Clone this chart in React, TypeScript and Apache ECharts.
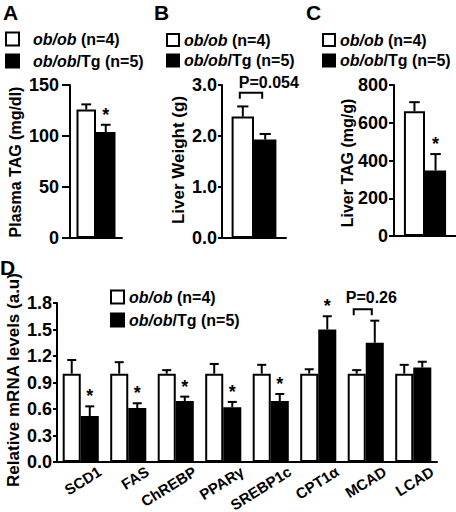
import React, { useEffect, useRef } from 'react';
import * as echarts from 'echarts';

const FONT = 'Arial, "Liberation Sans", Helvetica, sans-serif';

// Group names (legend)
const groupNames = ['ob/ob (n=4)', 'ob/ob/Tg (n=5)'];

// Panel A: Plasma TAG (mg/dl)
const plasmaCats = ['Plasma TAG'];
const plasmaObOb = [126];
const plasmaObObErr = [5];
const plasmaTg = [104];
const plasmaTgErr = [7];
const plasmaTgStar = [1];

// Panel B: Liver weight (g)
const liverWCats = ['Liver Weight'];
const liverWObOb = [2.38];
const liverWObObErr = [0.2];
const liverWTg = [1.93];
const liverWTgErr = [0.11];
const liverWBracket = [2.85];
const liverWP = ['P=0.054'];

// Panel C: Liver TAG (mg/g)
const liverTCats = ['Liver TAG'];
const liverTObOb = [661];
const liverTObObErr = [48];
const liverTTg = [347];
const liverTTgErr = [87];
const liverTTgStar = [1];

// Panel D: relative mRNA levels
const genes = ['SCD1', 'FAS', 'ChREBP', 'PPARγ', 'SREBP1c', 'CPT1α', 'MCAD', 'LCAD'];
const mrnaObOb = [1, 1, 1, 1, 1, 1, 1, 1];
const mrnaObObErr = [0.155, 0.13, 0.04, 0.11, 0.1, 0.05, 0.04, 0.1];
const mrnaTg = [0.52, 0.61, 0.69, 0.62, 0.69, 1.5, 1.35, 1.07];
const mrnaTgErr = [0.11, 0.055, 0.05, 0.06, 0.08, 0.15, 0.25, 0.065];
const mrnaTgStar = [1, 1, 1, 1, 1, 1, 0, 0];
const mrnaBracketIdx = 6;
const mrnaBracket = [1.73];
const mrnaP = ['P=0.26'];

// Axis ranges [min, max, interval]
const axisA = [0, 150, 50];
const axisB = [0, 3, 1];
const axisC = [0, 800, 200];
const axisD = [0, 1.8, 0.3];

function errSeries(gi: number, vals: number[], errs: number[], side: number, gap: number, stars?: number[]) {
  return {
    type: 'custom',
    xAxisIndex: gi,
    yAxisIndex: gi,
    z: 5,
    silent: true,
    data: vals.map((v, i) => [i, v, errs[i], stars ? stars[i] : 0]),
    renderItem: (params: any, api: any) => {
      const i = api.value(0), v = api.value(1), e = api.value(2), s = api.value(3);
      const base = api.coord([i, v]);
      const top = api.coord([i, v + e]);
      const band = api.size([1, 0])[0];
      const bw = (band * (1 - gap)) / 2;
      const x = base[0] + (side * bw) / 2;
      const cw = bw * 0.5;
      const children: any[] = [
        { type: 'line', shape: { x1: x, y1: base[1], x2: x, y2: top[1] }, style: { stroke: '#000', lineWidth: 2 } },
        { type: 'line', shape: { x1: x - cw / 2, y1: top[1], x2: x + cw / 2, y2: top[1] }, style: { stroke: '#000', lineWidth: 2 } },
      ];
      if (s) {
        children.push({
          type: 'text',
          x,
          y: top[1] - 1,
          style: { text: '*', font: `bold 18px ${FONT}`, fill: '#000', align: 'center', verticalAlign: 'bottom' },
        });
      }
      return { type: 'group', children };
    },
  };
}

function bracketSeries(gi: number, idx: number, yv: number, label: string, gap: number, textDx: number, textDy: number) {
  return {
    type: 'custom',
    xAxisIndex: gi,
    yAxisIndex: gi,
    z: 6,
    silent: true,
    data: [[idx, yv]],
    renderItem: (params: any, api: any) => {
      const p = api.coord([api.value(0), api.value(1)]);
      const band = api.size([1, 0])[0];
      const bw = (band * (1 - gap)) / 2;
      const x1 = p[0] - bw / 2 - 3;
      const x2 = p[0] + bw / 2 - 3;
      return {
        type: 'group',
        children: [
          {
            type: 'polyline',
            shape: { points: [[x1, p[1] + 6], [x1, p[1]], [x2, p[1]], [x2, p[1] + 6]] },
            style: { stroke: '#000', lineWidth: 2, fill: 'none' },
          },
          {
            type: 'text',
            x: x1 + textDx,
            y: p[1] - textDy,
            style: { text: label, font: `bold 16px ${FONT}`, fill: '#000', align: 'left', verticalAlign: 'middle' },
          },
        ],
      };
    },
  };
}

// Rotated category labels for panel D, placed from the category axis scale
function catLabelSeries(gi: number, cats: string[], dx: number, dy: number, angleDeg: number, fs: number) {
  return {
    type: 'custom',
    xAxisIndex: gi,
    yAxisIndex: gi,
    z: 6,
    silent: true,
    clip: false,
    data: cats.map((c, i) => [i, 0]),
    renderItem: (params: any, api: any) => {
      const i = api.value(0);
      const p = api.coord([i, 0]);
      return {
        type: 'text',
        x: p[0] + dx,
        y: p[1] + dy,
        rotation: (angleDeg * Math.PI) / 180,
        style: { text: cats[i], font: `bold ${fs}px ${FONT}`, fill: '#000', align: 'right', verticalAlign: 'middle' },
      };
    },
  };
}

function barPair(gi: number, white: number[], black: number[], gap: number) {
  const common = { type: 'bar', xAxisIndex: gi, yAxisIndex: gi, barGap: '0%', barCategoryGap: `${gap * 100}%`, silent: true };
  return [
    { ...common, name: groupNames[0], data: white, itemStyle: { color: '#fff', borderColor: '#000', borderWidth: 2 } },
    { ...common, name: groupNames[1], data: black, itemStyle: { color: '#000', borderColor: '#000', borderWidth: 2 } },
  ];
}

function yAxis(gi: number, range: number[], decimals: number, tickLen: number, margin: number, fs: number) {
  return {
    type: 'value',
    gridIndex: gi,
    min: range[0],
    max: range[1],
    interval: range[2],
    axisLine: { show: true, lineStyle: { color: '#000', width: 2 } },
    axisTick: { show: true, length: tickLen, lineStyle: { color: '#000', width: 2 } },
    axisLabel: {
      margin,
      color: '#000',
      fontFamily: FONT,
      fontWeight: 'bold',
      fontSize: fs,
      formatter: (v: number) => v.toFixed(decimals),
    },
    splitLine: { show: false },
  };
}

function xAxis(gi: number, cats: string[]) {
  return {
    type: 'category',
    gridIndex: gi,
    data: cats,
    axisLine: { show: true, lineStyle: { color: '#000', width: 2 } },
    axisTick: { show: false },
    axisLabel: { show: false },
  };
}

function legend(left: number, top: number, icon: number, gap: number, spacer: number) {
  return {
    left,
    top,
    padding: 0,
    orient: 'vertical',
    icon: 'rect',
    itemWidth: icon,
    itemHeight: icon,
    itemGap: gap,
    selectedMode: false,
    data: groupNames,
    itemStyle: { borderColor: '#000', borderWidth: 2 },
    formatter: (name: string) => (spacer ? '{s| }' : '') + '{i|' + name.slice(0, 5) + '}{b|' + name.slice(5) + '}',
    textStyle: {
      color: '#000',
      fontFamily: FONT,
      fontWeight: 'bold',
      fontSize: 16,
      lineHeight: 16,
      rich: {
        s: { width: spacer, fontSize: 16, lineHeight: 16 },
        i: { fontStyle: 'italic', fontWeight: 'bold', fontSize: 16, fontFamily: FONT, lineHeight: 16, color: '#000' },
        b: { fontWeight: 'bold', fontSize: 16, fontFamily: FONT, lineHeight: 16, color: '#000' },
      },
    },
  };
}

function vText(x: number, y: number, text: string, fs: number) {
  return {
    type: 'text',
    x,
    y,
    rotation: Math.PI / 2,
    style: { text, font: `bold ${fs}px ${FONT}`, fill: '#000', align: 'center', verticalAlign: 'middle', textAlign: 'center', textVerticalAlign: 'middle' },
  };
}

function letter(x: number, y: number, text: string) {
  return {
    type: 'text',
    x,
    y,
    style: { text, font: `bold 21px ${FONT}`, fill: '#000', align: 'left', verticalAlign: 'middle', textAlign: 'left', textVerticalAlign: 'middle' },
  };
}

export default function App() {
  const ref = useRef<HTMLDivElement>(null);
  useEffect(() => {
    if (!ref.current) return;
    const chart = echarts.init(ref.current, undefined, { renderer: 'svg' });
    const gA = 0.25, gB = 0.3, gC = 0.32, gD = 0.24;
    const gridBase = { containLabel: false, outerBoundsMode: 'none' };
    const option: any = {
      animation: false,
      backgroundColor: '#fff',
      grid: [
        { ...gridBase, left: 70, top: 85, width: 52, height: 153 },
        { ...gridBase, left: 222, top: 85, width: 64, height: 153 },
        { ...gridBase, left: 394, top: 85, width: 62, height: 151 },
        { ...gridBase, left: 57, top: 303, width: 380, height: 159 },
      ],
      xAxis: [xAxis(0, plasmaCats), xAxis(1, liverWCats), xAxis(2, liverTCats), xAxis(3, genes)],
      yAxis: [
        yAxis(0, axisA, 0, 8, 11, 18),
        yAxis(1, axisB, 1, 4, 5, 18),
        yAxis(2, axisC, 0, 5, 6, 18),
        yAxis(3, axisD, 1, 4, 5, 18),
      ],
      legend: [
        legend(5, 31, 13, 6, 9),
        legend(166, 32, 12, 4.5, 0),
        legend(322, 32, 12, 4.5, 0),
        legend(110, 289, 13, 7, 0),
      ],
      graphic: [
        letter(3, 12, 'A'),
        letter(154, 12, 'B'),
        letter(306, 12, 'C'),
        letter(0, 267, 'D'),
        vText(15, 162, 'Plasma TAG (mg/dl)', 16),
        vText(178, 160, 'Liver Weight (g)', 17),
        vText(347, 163, 'Liver TAG (mg/g)', 16),
        vText(13, 380, 'Relative mRNA levels (a.u)', 17),
      ],
      series: [
        ...barPair(0, plasmaObOb, plasmaTg, gA),
        errSeries(0, plasmaObOb, plasmaObObErr, -1, gA),
        errSeries(0, plasmaTg, plasmaTgErr, 1, gA, plasmaTgStar),
        ...barPair(1, liverWObOb, liverWTg, gB),
        errSeries(1, liverWObOb, liverWObObErr, -1, gB),
        errSeries(1, liverWTg, liverWTgErr, 1, gB),
        bracketSeries(1, 0, liverWBracket[0], liverWP[0], gB, -1, 10),
        ...barPair(2, liverTObOb, liverTTg, gC),
        errSeries(2, liverTObOb, liverTObObErr, -1, gC),
        errSeries(2, liverTTg, liverTTgErr, 1, gC, liverTTgStar),
        ...barPair(3, mrnaObOb, mrnaTg, gD),
        errSeries(3, mrnaObOb, mrnaObObErr, -1, gD),
        errSeries(3, mrnaTg, mrnaTgErr, 1, gD, mrnaTgStar),
        bracketSeries(3, mrnaBracketIdx, mrnaBracket[0], mrnaP[0], gD, -8, 12),
        catLabelSeries(3, genes, 19, 8, 32, 15),
      ],
    };
    chart.setOption(option);
    return () => chart.dispose();
  }, []);
  return <div ref={ref} style={{ position: 'absolute', left: 0, top: 0, width: 456, height: 512 }} />;
}
